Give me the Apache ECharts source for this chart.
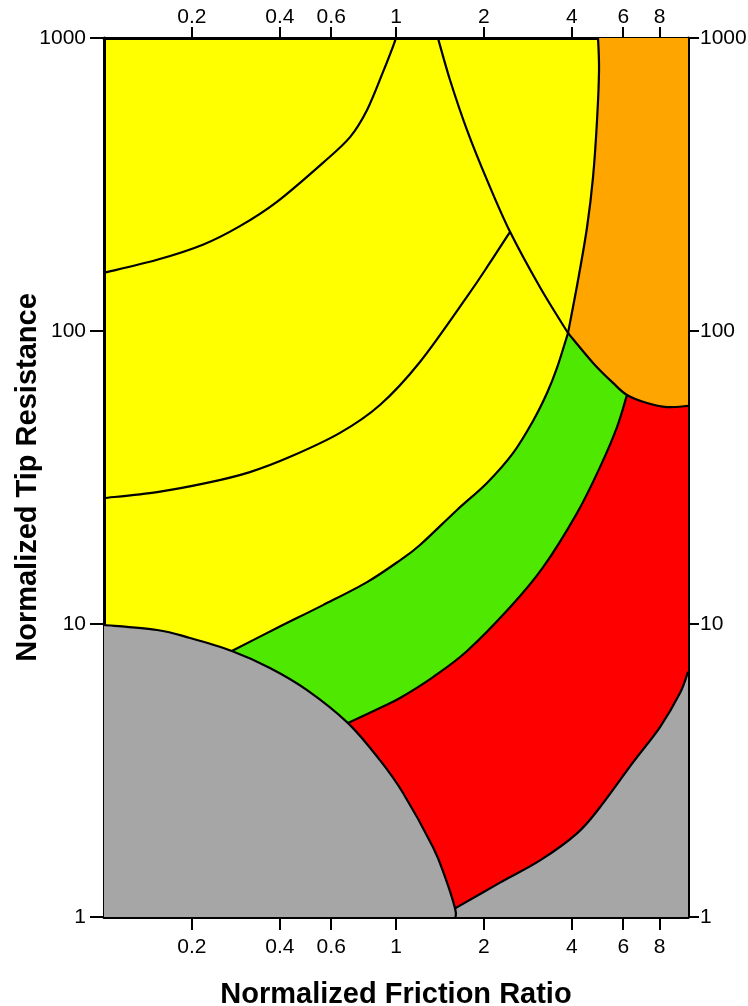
<!DOCTYPE html>
<html>
<head>
<meta charset="utf-8">
<title>Normalized SBT chart</title>
<script src="https://cdn.jsdelivr.net/npm/echarts@6/dist/echarts.min.js"></script>
<style>
  html, body { margin: 0; padding: 0; background: #fff; }
  #main { width: 748px; height: 1006px; }
</style>
</head>
<body>
<div id="main"></div>
<script>
// tick values on the log axes
const frTicks = [0.2, 0.4, 0.6, 1, 2, 4, 6, 8];
const qtTicks = [1, 10, 100, 1000];

// zone boundaries as [friction ratio, tip resistance]
const zone1Arc = [[0.1, 9.92], [0.152, 9.54], [0.197, 8.96], [0.274, 8.09], [0.37, 7.08], [0.496, 5.95],
  [0.685, 4.59], [0.881, 3.43], [1.057, 2.65], [1.339, 1.73], [1.472, 1.37], [1.593, 1.07], [1.6, 1]];
const bound45 = [[0.274, 8.09], [0.391, 9.69], [0.562, 11.6], [0.796, 13.9], [1.032, 16.5], [1.208, 18.6],
  [1.618, 24.5], [2.049, 30.3], [2.516, 38.3], [2.946, 49.3], [3.29, 61.4], [3.559, 74.8], [3.882, 98.4]];
const bound34 = [[0.685, 4.59], [0.881, 5.17], [1.032, 5.59], [1.339, 6.59], [1.751, 8.09], [2.458, 11.4],
  [3.187, 15.6], [4.168, 23.9], [4.996, 34.3], [5.714, 47.0], [6.181, 60.5]];
const bound23 = [[1.593, 1.07], [2.271, 1.31], [3.113, 1.56], [4.168, 1.93], [4.996, 2.37], [6.481, 3.37],
  [8.02, 4.45], [9.389, 5.81], [10, 6.86]];
const bound9left = [[4.919, 1000], [4.958, 778], [4.881, 525], [4.729, 335], [4.511, 226], [4.201, 149], [3.882, 98.4]];
const bound9low = [[3.882, 98.4], [4.729, 77.8], [5.537, 66.5], [6.181, 60.5], [7.238, 56.8], [8.476, 55.0], [10, 55.5]];
const bound8left = [[1.392, 1000], [1.531, 719], [1.751, 485], [2.049, 328], [2.458, 218], [3.113, 141], [3.882, 98.4]];
const bound56 = [[0.1, 26.9], [0.152, 28.2], [0.225, 30.3], [0.316, 33.0], [0.434, 37.2], [0.643, 44.9],
  [0.881, 55.9], [1.208, 78.4], [1.751, 131], [2.098, 171], [2.458, 218]];
const bound67 = [[0.1, 158], [0.152, 175], [0.218, 197], [0.292, 228], [0.391, 276], [0.562, 375],
  [0.696, 459], [0.796, 568], [0.903, 766], [0.961, 896], [1.0, 1000]];

// zone numbers and where they sit
const zoneNames = ['1', '2', '3', '4', '5', '6', '7', '8', '9'];
const zoneFr = [0.258, 6.38, 3.02, 1.438, 0.783, 0.391, 0.21, 3.02, 6.85];
const zoneQt = [2.51, 1.73, 4.97, 12.6, 30.3, 111.6, 485, 431, 241];

const lg = Math.log10;
const toLog = (p) => [lg(p[0]), lg(p[1])];
const fmt = (v) => String(Number(Math.pow(10, v).toPrecision(6)));

// each area is a list of pieces: curves are smoothed, single points are corners
const areas = [
  { pieces: [bound45, [[10, 98.4]], [[10, 1]], [[0.274, 1]]], color: '#4ee800' },
  { pieces: [bound34, [[10, 60.5]], [[10, 1]], [[0.685, 1]]], color: '#ff0000' },
  { pieces: [bound9left, bound9low, [[10, 1000]]], color: '#ffa500' },
  { pieces: [bound23, [[10, 1]], [[1.6, 1]]], color: '#a6a6a6' },
  { pieces: [[[0.1, 1]], zone1Arc], color: '#a6a6a6' },
];
const lines = [zone1Arc, bound45, bound34, bound23, bound9left, bound9low, bound8left, bound56, bound67];

const font = 'Liberation Sans, Arial, sans-serif';

// catmull-rom through the pixel points, as bezier path commands
function piecePath(px, first) {
  let d = (first ? 'M' : 'L') + px[0][0] + ' ' + px[0][1];
  for (let i = 0; i < px.length - 1; i++) {
    const p0 = px[i - 1] || px[i];
    const p1 = px[i];
    const p2 = px[i + 1];
    const p3 = px[i + 2] || px[i + 1];
    const c1x = p1[0] + (p2[0] - p0[0]) / 6;
    const c1y = p1[1] + (p2[1] - p0[1]) / 6;
    const c2x = p2[0] - (p3[0] - p1[0]) / 6;
    const c2y = p2[1] - (p3[1] - p1[1]) / 6;
    d += ` C${c1x} ${c1y} ${c2x} ${c2y} ${p2[0]} ${p2[1]}`;
  }
  return d;
}

function xAxisCfg(pos) {
  const top = pos === 'top';
  return {
    type: 'value',
    position: pos,
    min: -1,
    max: 1,
    axisLine: { show: true, onZero: false, lineStyle: { color: '#000', width: 3 } },
    axisTick: { show: true, customValues: frTicks.map(lg), length: top ? 11 : 13, lineStyle: { color: '#000', width: 2 } },
    axisLabel: { customValues: frTicks.map(lg), formatter: fmt, margin: top ? 10 : 20, fontSize: 21, color: '#000', fontFamily: font },
    splitLine: { show: false },
    name: top ? '' : 'Normalized Friction Ratio',
    nameLocation: 'middle',
    nameGap: 63,
    nameMoveOverlap: false,
    nameTextStyle: { fontSize: 29, fontWeight: 'bold', color: '#000', fontFamily: font },
  };
}

function yAxisCfg(pos) {
  const left = pos === 'left';
  return {
    type: 'value',
    position: pos,
    min: 0,
    max: 3,
    interval: 1,
    axisLine: { show: true, onZero: false, lineStyle: { color: '#000', width: 3 } },
    axisTick: { show: true, length: left ? 14 : 11, lineStyle: { color: '#000', width: 2 } },
    axisLabel: { formatter: fmt, margin: left ? 18 : 12, fontSize: 21, color: '#000', fontFamily: font },
    splitLine: { show: false },
    name: left ? 'Normalized Tip Resistance' : '',
    nameLocation: 'middle',
    nameGap: 62,
    nameMoveOverlap: false,
    nameTextStyle: { fontSize: 29, fontWeight: 'bold', color: '#000', fontFamily: font },
  };
}

const series = [];
areas.forEach((a) => {
  series.push({
    type: 'custom',
    silent: true,
    data: [[0, 0]],
    renderItem: (params, api) => {
      let d = '';
      a.pieces.forEach((pc, k) => {
        d += piecePath(pc.map((p) => api.coord(toLog(p))), k === 0) + ' ';
      });
      return { type: 'path', shape: { pathData: d + 'Z' }, style: { fill: a.color, stroke: null } };
    },
  });
});
lines.forEach((l) => {
  series.push({
    type: 'custom',
    silent: true,
    data: [[0, 0]],
    z: 3,
    renderItem: (params, api) => ({
      type: 'path',
      shape: { pathData: piecePath(l.map((p) => api.coord(toLog(p))), true) },
      style: { fill: null, stroke: '#000', lineWidth: 2.2 },
    }),
  });
});
series.push({
  type: 'scatter',
  silent: true,
  symbolSize: 1,
  itemStyle: { opacity: 0 },
  data: zoneNames.map((n, i) => [lg(zoneFr[i]), lg(zoneQt[i]), n]),
  label: {
    show: true,
    position: 'inside',
    formatter: (p) => p.data[2],
    fontSize: 16,
    fontWeight: 'bold',
    color: '#000',
    fontFamily: font,
  },
  z: 4,
});

const chart = echarts.init(document.getElementById('main'), null, { renderer: 'canvas' });
chart.setOption({
  animation: false,
  backgroundColor: '#fff',
  grid: {
    left: 104, right: 60, top: 38, bottom: 89,
    outerBoundsMode: 'none',
    show: true, backgroundColor: '#ffff00', borderWidth: 0,
  },
  xAxis: [xAxisCfg('bottom'), xAxisCfg('top')],
  yAxis: [yAxisCfg('left'), yAxisCfg('right')],
  series: series,
});
</script>
</body>
</html>
